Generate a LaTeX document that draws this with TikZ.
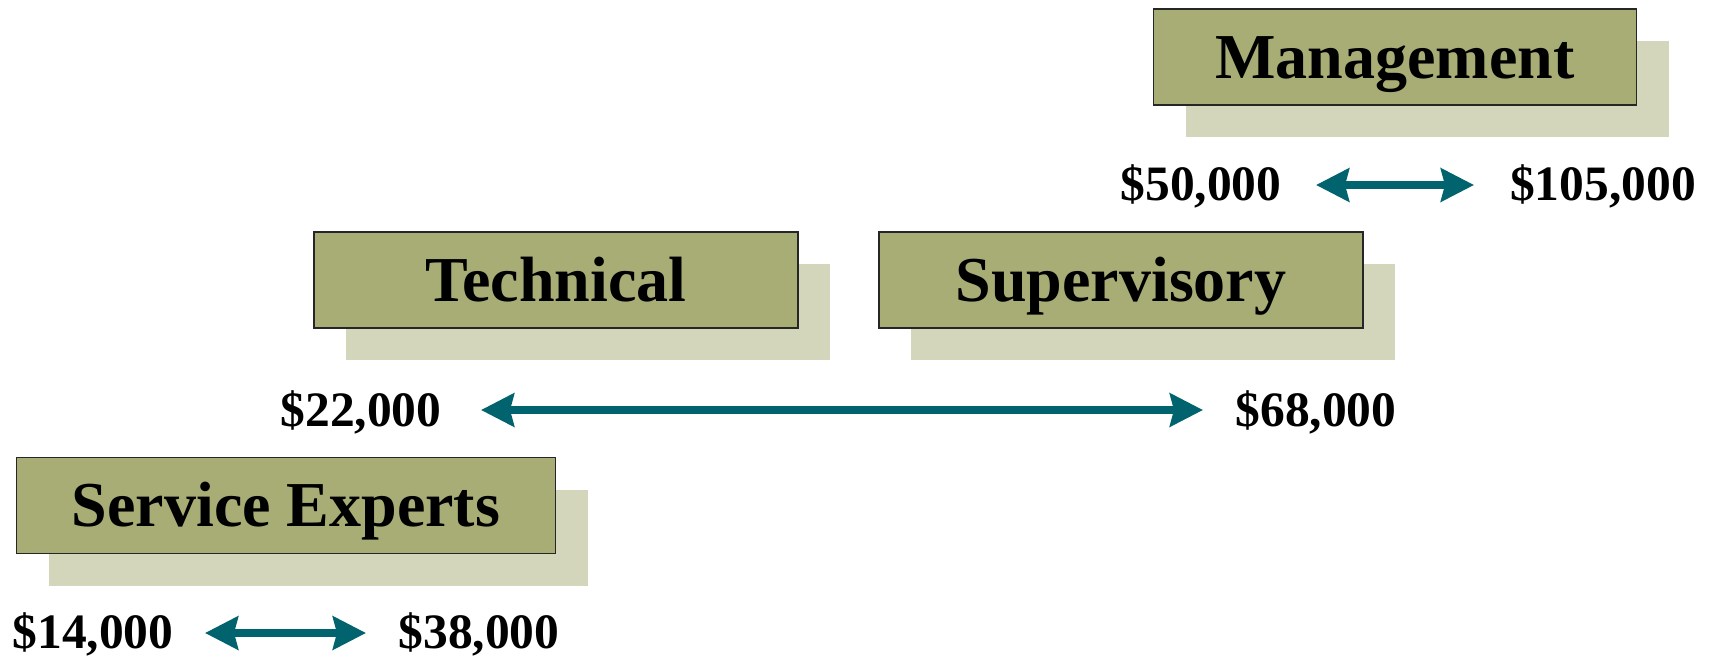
\documentclass[tikz,border=0pt]{standalone}
\usepackage{fontspec}
\setmainfont{Liberation Serif}
\usetikzlibrary{shadows,arrows.meta}
\definecolor{boxfill}{RGB}{168,173,117}
\definecolor{boxshadow}{RGB}{211,214,187}
\definecolor{arrowc}{RGB}{0,99,110}
\tikzset{
 levelbox/.style={draw=black!85, line width=1.2pt, fill=boxfill, minimum height=96pt, inner sep=0pt,
   text height=42.4pt, text depth=0pt,
   drop shadow={shadow xshift=32pt, shadow yshift=-32pt, fill=boxshadow, opacity=1, draw=none},
   font=\fontsize{64}{70}\selectfont\bfseries},
 salary/.style={font=\fontsize{49.5}{55}\selectfont\bfseries, inner sep=0pt, anchor=base},
 payarrow/.style={draw=arrowc, line width=8pt,
   {Stealth[length=33pt,width=33pt,inset=4pt]}-{Stealth[length=33pt,width=33pt,inset=4pt]}}
}
\begin{document}
\begin{tikzpicture}[x=1pt,y=-1pt]
\useasboundingbox (0,0) rectangle (1712,657);
% boxes
\node[levelbox, minimum width=483pt] (mgmt) at (1395,57) {Management};
\node[levelbox, minimum width=484pt] (tech) at (556,280) {Technical};
\node[levelbox, minimum width=484pt] (super) at (1121,280) {Supervisory};
\node[levelbox, minimum width=539pt] (serv) at (286,505.5) {Service Experts};
% salaries
\node[salary] (m1) at (1201,200) {\$50,000};
\node[salary] (m2) at (1603,200) {\$105,000};
\node[salary] (t1) at (361,426) {\$22,000};
\node[salary] (t2) at (1316,426) {\$68,000};
\node[salary] (s1) at (93,648) {\$14,000};
\node[salary] (s2) at (479,648) {\$38,000};
% arrow ends
\coordinate (ma) at (1316,185);
\coordinate (mb) at (1474,185);
\coordinate (ta) at (481,410);
\coordinate (tb) at (1203,410);
\coordinate (sa) at (205,633);
\coordinate (sb) at (366,633);
\draw[payarrow] (ma) -- (mb);
\draw[payarrow] (ta) -- (tb);
\draw[payarrow] (sa) -- (sb);
\end{tikzpicture}
\end{document}
